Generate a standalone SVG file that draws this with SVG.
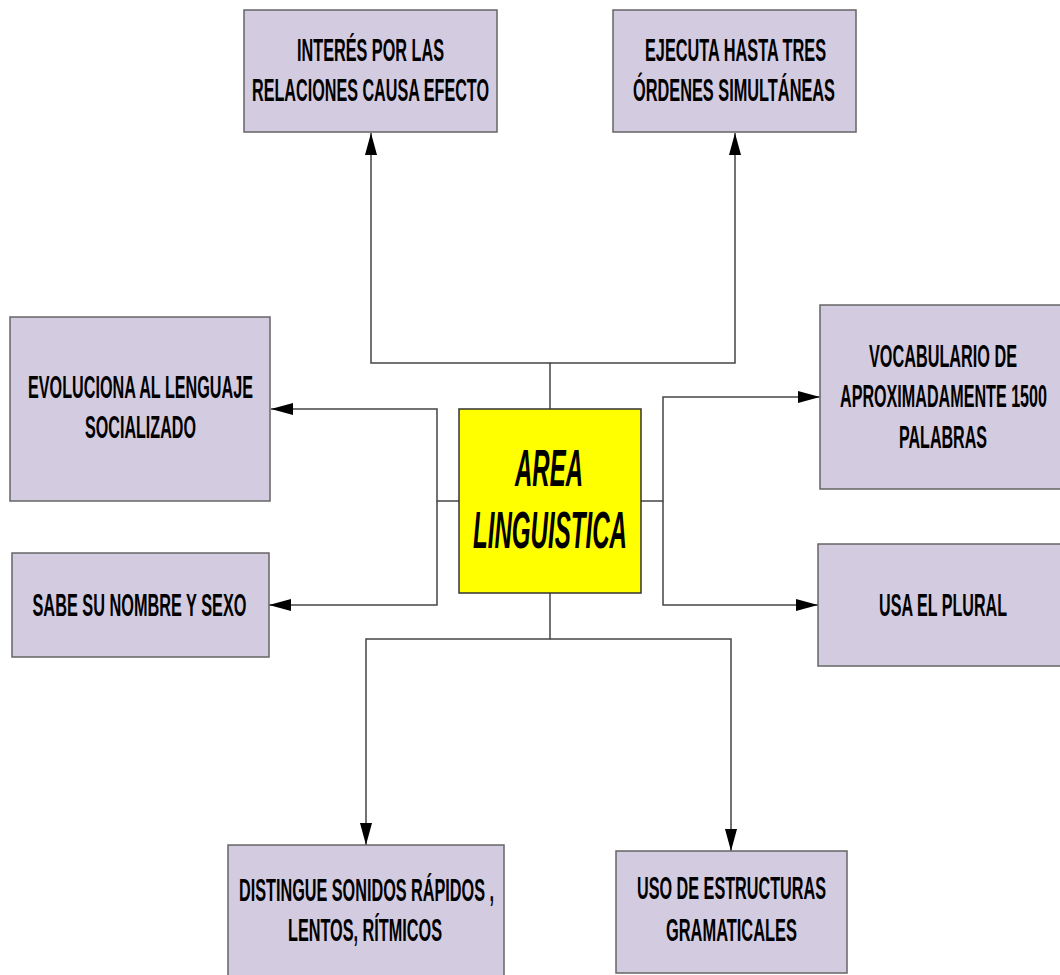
<svg xmlns="http://www.w3.org/2000/svg" width="1060" height="975" viewBox="0 0 1060 975">
<defs>
<style>
.box{fill:#d3cbe0;stroke:#666;stroke-width:1.5}
.core{fill:#ffff00;stroke:#333;stroke-width:1.5}
.t{font-family:"Liberation Sans",Arial,sans-serif;font-weight:bold;font-size:31px;fill:#000;text-anchor:middle}
.c{font-family:"Liberation Sans",Arial,sans-serif;font-weight:bold;font-style:italic;font-size:52px;fill:#000;text-anchor:middle}
.ln{fill:none;stroke:#444;stroke-width:1.5}
</style>
<marker id="ah" viewBox="0 0 22 12" refX="22" refY="6" markerWidth="22" markerHeight="12" markerUnits="userSpaceOnUse" orient="auto">
<path d="M0,0 L22,6 L0,12 z" fill="#000"/>
</marker>
</defs>
<rect width="1060" height="975" fill="#fff"/>
<g id="connectors">
<polyline class="ln" points="550,409 550,363 371,363 371,133" marker-end="url(#ah)"/>
<polyline class="ln" points="550,363 735,363 735,133" marker-end="url(#ah)"/>
<polyline class="ln" points="459,501 437,501 437,409 271,409" marker-end="url(#ah)"/>
<polyline class="ln" points="437,501 437,605 269,605" marker-end="url(#ah)"/>
<polyline class="ln" points="641,501 663,501 663,397 820,397" marker-end="url(#ah)"/>
<polyline class="ln" points="663,501 663,605 818,605" marker-end="url(#ah)"/>
<polyline class="ln" points="550,593 550,639 366,639 366,845" marker-end="url(#ah)"/>
<polyline class="ln" points="550,639 731,639 731,851" marker-end="url(#ah)"/>
</g>
<g id="center">
<rect class="core" x="459" y="409" width="182" height="184"/>
<text class="c" transform="translate(549,486) scale(0.45,1)" x="0" y="0" textLength="151" lengthAdjust="spacingAndGlyphs">AREA</text>
<text class="c" transform="translate(550,548) scale(0.45,1)" x="0" y="0" textLength="342" lengthAdjust="spacingAndGlyphs">LINGUISTICA</text>
</g>
<g id="n-interes">
<rect class="box" x="244" y="10" width="253" height="122"/>
<text class="t" transform="translate(370.5,61) scale(0.5,1)" textLength="294" lengthAdjust="spacingAndGlyphs">INTERÉS POR LAS</text>
<text class="t" transform="translate(370.5,101) scale(0.5,1)" textLength="474" lengthAdjust="spacingAndGlyphs">RELACIONES CAUSA EFECTO</text>
</g>
<g id="n-ejecuta">
<rect class="box" x="613" y="10" width="243" height="122"/>
<text class="t" transform="translate(735.5,61) scale(0.5,1)" textLength="362" lengthAdjust="spacingAndGlyphs">EJECUTA HASTA TRES</text>
<text class="t" transform="translate(734,101) scale(0.5,1)" textLength="404" lengthAdjust="spacingAndGlyphs">ÓRDENES SIMULTÁNEAS</text>
</g>
<g id="n-evoluciona">
<rect class="box" x="10" y="317" width="260" height="184"/>
<text class="t" transform="translate(140.5,398) scale(0.5,1)" textLength="450" lengthAdjust="spacingAndGlyphs">EVOLUCIONA AL LENGUAJE</text>
<text class="t" transform="translate(140.5,438) scale(0.5,1)" textLength="222" lengthAdjust="spacingAndGlyphs">SOCIALIZADO</text>
</g>
<g id="n-sabe">
<rect class="box" x="12" y="553" width="257" height="104"/>
<text class="t" transform="translate(139.5,616) scale(0.5,1)" textLength="428" lengthAdjust="spacingAndGlyphs">SABE SU NOMBRE Y SEXO</text>
</g>
<g id="n-vocabulario">
<rect class="box" x="820" y="305" width="245" height="184"/>
<text class="t" transform="translate(943,367) scale(0.5,1)" textLength="296" lengthAdjust="spacingAndGlyphs">VOCABULARIO DE</text>
<text class="t" transform="translate(943.5,407) scale(0.5,1)" textLength="414" lengthAdjust="spacingAndGlyphs">APROXIMADAMENTE 1500</text>
<text class="t" transform="translate(943,448) scale(0.5,1)" textLength="176" lengthAdjust="spacingAndGlyphs">PALABRAS</text>
</g>
<g id="n-plural">
<rect class="box" x="818" y="544" width="247" height="122"/>
<text class="t" transform="translate(943,616) scale(0.5,1)" textLength="256" lengthAdjust="spacingAndGlyphs">USA EL PLURAL</text>
</g>
<g id="n-distingue">
<rect class="box" x="228" y="845" width="276" height="135"/>
<text class="t" transform="translate(366.5,901) scale(0.5,1)" textLength="510" lengthAdjust="spacingAndGlyphs">DISTINGUE SONIDOS RÁPIDOS ,</text>
<text class="t" transform="translate(365,941) scale(0.5,1)" textLength="308" lengthAdjust="spacingAndGlyphs">LENTOS, RÍTMICOS</text>
</g>
<g id="n-uso">
<rect class="box" x="616" y="851" width="231" height="122"/>
<text class="t" transform="translate(731.5,899) scale(0.5,1)" textLength="378" lengthAdjust="spacingAndGlyphs">USO DE ESTRUCTURAS</text>
<text class="t" transform="translate(731.5,941) scale(0.5,1)" textLength="262" lengthAdjust="spacingAndGlyphs">GRAMATICALES</text>
</g>
</svg>
